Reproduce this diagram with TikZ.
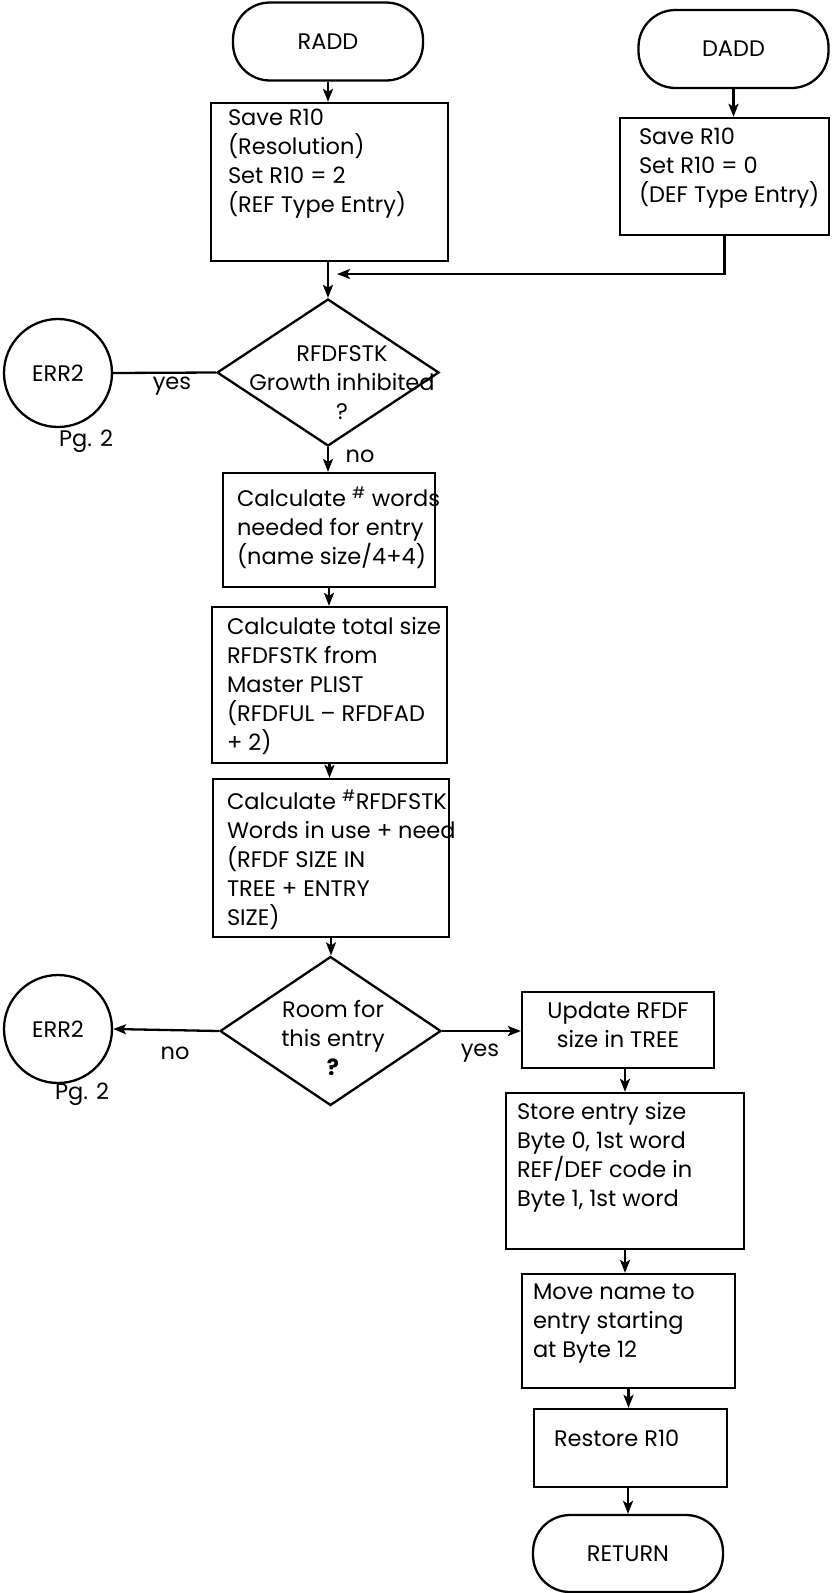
\documentclass[tikz,border=0pt]{standalone}
\usepackage{fontspec}
\setmainfont{Poppins}
\usetikzlibrary{calc,arrows.meta,shapes.geometric}

\begin{document}
\begin{tikzpicture}[x=1pt, y=-1pt, line width=2.3pt,
    every node/.style={font=\fontsize{22.5}{29}\selectfont},
    term/.style={draw, rectangle, rounded corners=37pt, minimum width=190pt, minimum height=78pt},
    proc/.style={draw, rectangle, inner sep=0pt},
    dec/.style={draw, diamond, inner sep=0pt, minimum width=222pt, minimum height=147pt},
    conn/.style={draw, circle, inner sep=0pt, minimum size=108pt},
    txt/.style={align=left, inner sep=0pt, anchor=north west},
    arr/.style={-{Stealth[length=13pt, width=10pt, inset=3pt]}}]
        \useasboundingbox(0,0)rectangle(831,1593);
        \coordinate(J)at(337,274);
        % start
        \node[term](radd)at(328,41.5){RADD};
        \node[term](dadd)at(733.5,49){DADD};
        \node[proc, minimum width=237pt, minimum height=158pt](p1)at(329.5,182){};
        \node[txt](t1)at([xshift=17pt, yshift=-6pt]p1.north west){Save R10\\(Resolution)\\Set R10 = 2\\(REF Type Entry)};
        \node[proc, minimum width=209pt, minimum height=117pt](p2)at(724.5,176.5){};
        \node[txt](t2)at([xshift=19pt, yshift=-10pt]p2.north west){Save R10\\Set R10 = 0\\(DEF Type Entry)};
        \path[draw, arr](radd.south)to(radd.south|-p1.north);
        \path[draw, arr](dadd.south)to(dadd.south|-p2.north);
        \path[draw, arr](p2.south)|-(J);
        % growth test
        \node[dec](d1)at(328,372.5){};
        \node[align=center, inner sep=0pt](d1t)at(342,383){RFDFSTK\hspace{48pt}\\Growth inhibited\\?\hspace{24pt}};
        \path[draw, arr](radd.south|-p1.south)to(d1.north);
        \node[conn](e1)at(58,373){ERR2};
        \node(pg1)at(86,441){Pg. 2};
        \path[draw](d1.west)to(e1.east);
        \node(y1)at(172,386){yes};
        \node(n1)at(360,456){no};
        % sizes
        \node[proc, minimum width=212pt, minimum height=114pt](p3)at(329,530){};
        \node[txt](t3)at([xshift=14pt, yshift=-14pt]p3.north west){Calculate \textsuperscript{\#} words\\needed for entry\\(name size/4+4)};
        \path[draw, arr](d1.south)to(d1.south|-p3.north);
        \node[proc, minimum width=235pt, minimum height=156pt](p4)at(329.5,685){};
        \node[txt](t4)at([xshift=15pt, yshift=-10pt]p4.north west){Calculate total size\\RFDFSTK from\\Master PLIST\\(RFDFUL -- RFDFAD\\+ 2)};
        \path[draw, arr](p3.south)to(p3.south|-p4.north);
        \node[proc, minimum width=236pt, minimum height=158pt](p5)at(331,858){};
        \node[txt](t5)at([xshift=14pt, yshift=-11pt]p5.north west){Calculate \textsuperscript{\#}RFDFSTK\\Words in use + need\\(RFDF SIZE IN\\TREE + ENTRY\\SIZE)};
        \path[draw, arr](p4.south)to(p4.south|-p5.north);
        % room test
        \node[dec, minimum width=221pt, minimum height=149pt](d2)at(330.5,1031){};
        \node[align=center, inner sep=0pt](d2t)at(333,1038){Room for\\this entry\\\textbf{?}};
        \path[draw, arr](p5.south)to(p5.south|-d2.north);
        \node[conn](e2)at(58,1029){ERR2};
        \node(pg2)at(82,1094){Pg. 2};
        \path[draw, arr](d2.west)to(e2.east);
        \node(n2)at(175,1053){no};
        \node(y2)at(480,1053){yes};
        % store
        \node[proc, minimum width=192pt, minimum height=76pt](p6)at(618,1030){};
        \node[align=center, inner sep=0pt, anchor=north](t6)at([yshift=-10pt]p6.north){Update RFDF\\size in TREE};
        \path[draw, arr](d2.east)to(d2.east-|p6.west);
        \node[proc, minimum width=238pt, minimum height=156pt](p7)at(625,1171){};
        \node[txt](t7)at([xshift=11pt, yshift=-9pt]p7.north west){Store entry size\\Byte 0, 1st word\\REF/DEF code in\\Byte 1, 1st word};
        \path[draw, arr](p7.north|-p6.south)to(p7.north);
        \node[proc, minimum width=213pt, minimum height=114pt](p8)at(628.5,1331){};
        \node[txt](t8)at([xshift=11pt, yshift=-10pt]p8.north west){Move name to\\entry starting\\at Byte 12};
        \path[draw, arr](p7.south)to(p7.south|-p8.north);
        \node[proc, minimum width=193pt, minimum height=78pt](p9)at(630.5,1448){};
        \node[txt](t9)at([xshift=20pt, yshift=-21pt]p9.north west){Restore R10};
        \path[draw, arr](p8.south)to(p8.south|-p9.north);
        % end
        \node[term, minimum height=77pt](ret)at(628,1553.5){RETURN};
        \path[draw, arr](ret.north|-p9.south)to(ret.north);
\end{tikzpicture}
\end{document}
